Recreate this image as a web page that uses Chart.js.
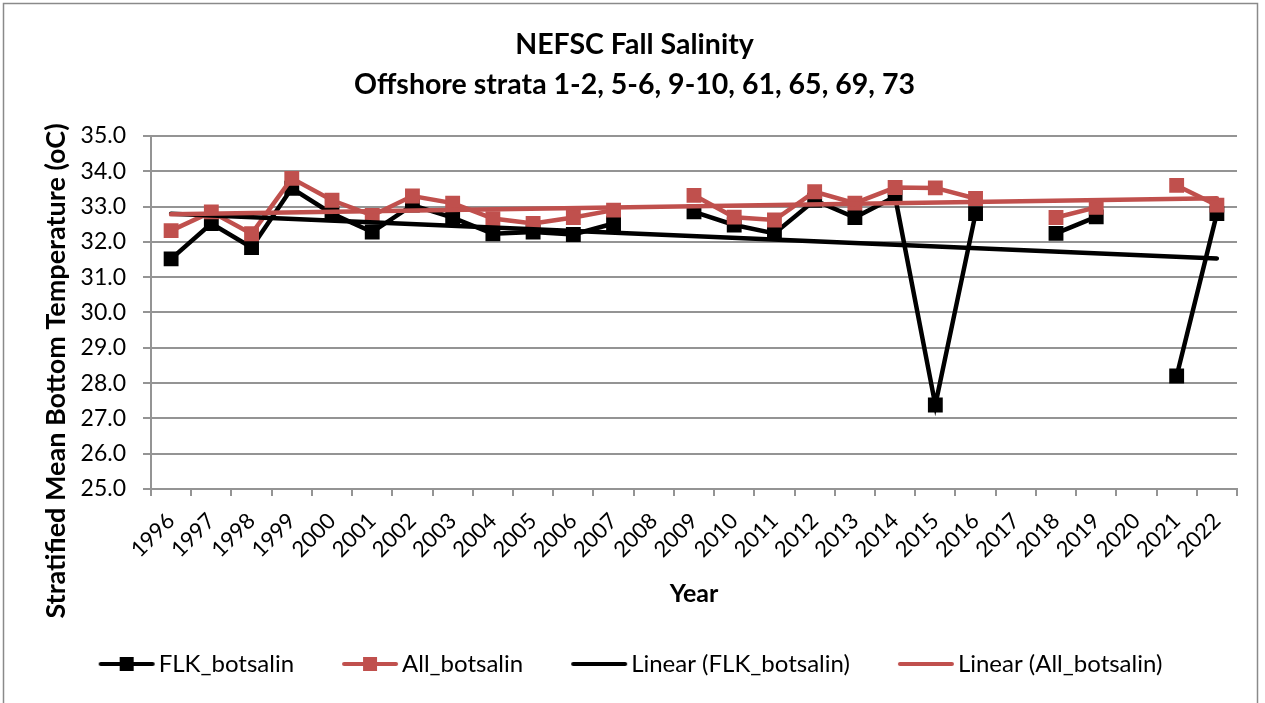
<!DOCTYPE html>
<html>
<head>
<meta charset="utf-8">
<script src="https://cdn.jsdelivr.net/npm/chart.js@4.4.0/dist/chart.umd.min.js"></script>
<style>
	html, body { margin: 0; padding: 0; background: #fff; }
	#wrap { width: 1265px; height: 703px; }
</style>
</head>
<body>
<div id="wrap"><canvas id="salinity"></canvas></div>
<script>
const years = ['1996', '1997', '1998', '1999', '2000', '2001', '2002', '2003', '2004',
	'2005', '2006', '2007', '2008', '2009', '2010', '2011', '2012', '2013', '2014',
	'2015', '2016', '2017', '2018', '2019', '2020', '2021', '2022']

// bottom salinity, null where the survey has no value
const flkBotsalin = [31.52, 32.52, 31.84, 33.52, 32.8, 32.28, 33.04, 32.69, 32.23,
	32.28, 32.21, 32.52, null, 32.85, 32.48, 32.24, 33.18, 32.69, 33.28,
	27.38, 32.8, null, 32.24, 32.71, null, 28.2, 32.8]
const allBotsalin = [32.32, 32.85, 32.23, 33.8, 33.18, 32.75, 33.3, 33.1, 32.66,
	32.52, 32.69, 32.9, null, 33.32, 32.7, 32.62, 33.42, 33.1, 33.54,
	33.53, 33.23, null, 32.69, 32.98, null, 33.6, 33.04]

// linear trend ends (first and last year)
const flkTrend = [32.8, 31.53]
const allTrend = [32.78, 33.24]

const yTicks = [25, 26, 27, 28, 29, 30, 31, 32, 33, 34, 35]

const BLACK = '#000000'
const RED = '#C0504D'
const GRID = '#949494'
const FONT = 'Lato, "Open Sans", sans-serif'
const Y_TITLE = 'Stratified Mean Bottom Temperature (oC)'

function legendIcon(color, marker) {
	const c = document.createElement('canvas')
	c.width = 58
	c.height = 16
	const g = c.getContext('2d')
	g.strokeStyle = color
	g.lineWidth = 4
	g.lineCap = 'round'
	g.beginPath()
	g.moveTo(3, 8)
	g.lineTo(55, 8)
	g.stroke()
	if(marker) {
		g.fillStyle = color
		g.fillRect(22, 1, 14, 14)
	}
	return c
}

const trendPoints = (ends) => [
	{ x: years[0], y: ends[0] },
	{ x: years[years.length - 1], y: ends[1] },
]

// outer frame, y axis title, title and legend placement
const decor = {
	id: 'decor',
	afterLayout(chart) {
		const lg = chart.legend
		lg.left += 16
		lg.right += 16
		lg.top -= 17
		lg.bottom -= 17
		const tb = chart.titleBlock
		tb.left += 16
		tb.right += 16
	},
	afterDraw(chart) {
		const ctx = chart.ctx
		ctx.save()
		ctx.strokeStyle = '#8a8a8a'
		ctx.lineWidth = 1.5
		ctx.strokeRect(3.5, 3.5, 1254, 720)

		ctx.translate(56, 371)
		ctx.rotate(-Math.PI / 2)
		ctx.fillStyle = '#000'
		ctx.font = 'bold 27px ' + FONT
		ctx.textAlign = 'center'
		ctx.textBaseline = 'middle'
		ctx.fillText(Y_TITLE, 0, 0)
		ctx.restore()
	}
}

const icons = [legendIcon(BLACK, true), legendIcon(RED, true), legendIcon(BLACK, false), legendIcon(RED, false)]

const ctx = document.getElementById('salinity').getContext('2d')
new Chart(ctx, {
	type: 'line',
	data: {
		labels: years,
		datasets: [
			{
				label: 'FLK_botsalin',
				data: flkBotsalin,
				borderColor: BLACK,
				backgroundColor: BLACK,
				borderWidth: 4.5,
				pointStyle: 'rect',
				pointRadius: 10.5,
				pointBorderWidth: 0,
				spanGaps: false,
				order: 3,
			},
			{
				label: 'All_botsalin',
				data: allBotsalin,
				borderColor: RED,
				backgroundColor: RED,
				borderWidth: 4.5,
				pointStyle: 'rect',
				pointRadius: 10.5,
				pointBorderWidth: 0,
				spanGaps: false,
				order: 2,
			},
			{
				label: 'Linear (FLK_botsalin)',
				data: trendPoints(flkTrend),
				borderColor: BLACK,
				borderWidth: 4.5,
				pointRadius: 0,
				borderCapStyle: 'round',
				spanGaps: true,
				order: 1,
			},
			{
				label: 'Linear (All_botsalin)',
				data: trendPoints(allTrend),
				borderColor: RED,
				borderWidth: 4.5,
				pointRadius: 0,
				borderCapStyle: 'round',
				spanGaps: true,
				order: 0,
			},
		],
	},
	plugins: [decor],
	options: {
		responsive: true,
		maintainAspectRatio: false,
		animation: false,
		layout: {
			padding: { top: 0, left: 0, right: 28, bottom: 0 }
		},
		scales: {
			x: {
				type: 'category',
				offset: true,
				grid: {
					offset: true,
					drawOnChartArea: false,
					color: GRID,
					lineWidth: 2,
					tickLength: 7,
				},
				border: { color: GRID, width: 2 },
				ticks: {
					autoSkip: false,
					minRotation: 45,
					maxRotation: 45,
					padding: 12,
					color: '#000',
					font: { family: FONT, size: 22 },
				},
				title: {
					display: true,
					text: 'Year',
					color: '#000',
					font: { family: FONT, size: 25, weight: 'bold', lineHeight: 1 },
					padding: { top: 0, bottom: 7 },
				},
				afterFit: (scale) => { scale.height = 124 },
			},
			y: {
				min: 25,
				max: 35,
				afterBuildTicks: (scale) => { scale.ticks = yTicks.map(v => ({ value: v })) },
				grid: {
					color: GRID,
					lineWidth: 2,
					tickLength: 8,
				},
				border: { color: GRID, width: 2 },
				ticks: {
					padding: 17,
					color: '#000',
					font: { family: FONT, size: 23 },
					callback: (value) => Number(value).toFixed(1),
				},
				afterFit: (scale) => { scale.width = 151 },
			},
		},
		plugins: {
			title: {
				display: true,
				text: ['NEFSC Fall Salinity', 'Offshore strata 1-2, 5-6, 9-10, 61, 65, 69, 73'],
				color: '#000',
				font: { family: FONT, size: 28.5, weight: 'bold', lineHeight: 1.4035 },
				padding: { top: 25, bottom: 31 },
			},
			legend: {
				position: 'bottom',
				labels: {
					usePointStyle: true,
					pointStyleWidth: 40,
					padding: 56,
					color: '#000',
					font: { family: FONT, size: 24 },
					generateLabels: (chart) => chart.data.datasets.map((ds, i) => ({
						text: ds.label,
						pointStyle: icons[i],
						fillStyle: ds.borderColor,
						strokeStyle: ds.borderColor,
						lineWidth: 0,
						hidden: false,
						datasetIndex: i,
						fontColor: '#000',
					})),
				},
			},
			tooltip: { enabled: false },
		},
	},
})
</script>
</body>
</html>
